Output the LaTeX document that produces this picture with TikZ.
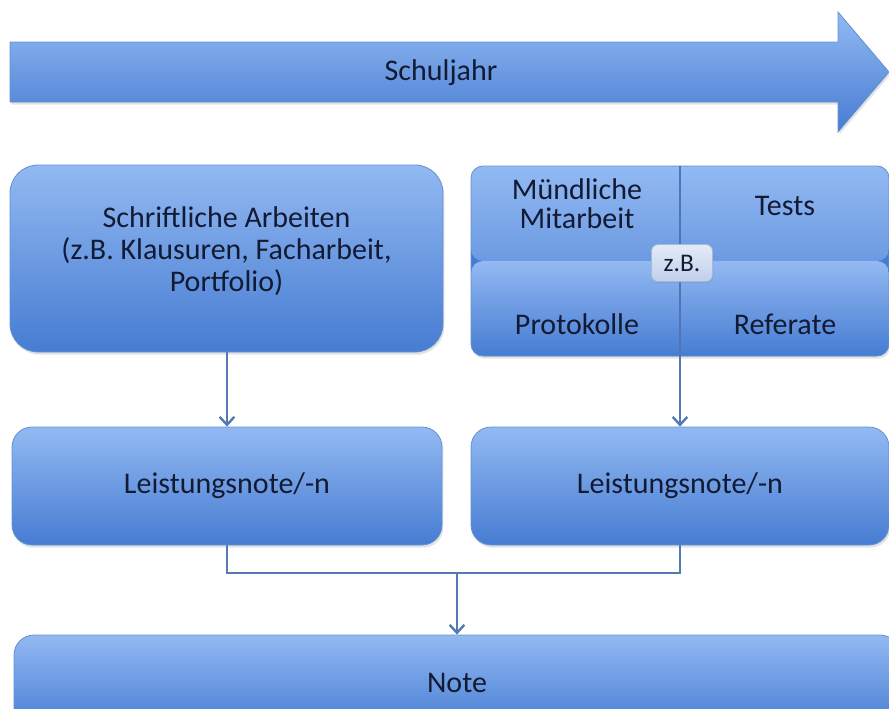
\documentclass[tikz,border=0pt]{standalone}
\usepackage{fontspec}
\setmainfont{Carlito}
\usetikzlibrary{arrows.meta,shadows}
\definecolor{bluetop}{RGB}{146,185,242}
\definecolor{bluebot}{RGB}{70,124,210}
\definecolor{blueedge}{RGB}{100,145,212}
\definecolor{divline}{RGB}{78,118,182}
\definecolor{txt}{RGB}{18,26,52}
\definecolor{conn}{RGB}{84,122,182}
\definecolor{zbtop}{RGB}{228,235,247}
\definecolor{zbbot}{RGB}{192,208,234}
\definecolor{zbedge}{RGB}{165,185,216}
\begin{document}
\begin{tikzpicture}[x=0.75pt,y=-0.75pt,
  softshadow/.style={drop shadow={opacity=0.22,shadow xshift=1pt,shadow yshift=-2pt}},
  bluebox/.style={draw=blueedge,line width=0.6pt,top color=bluetop,bottom color=bluebot,
    text=txt,align=center,inner sep=0pt,softshadow,
    font=\fontsize{22.5}{24}\selectfont},
  boxtxt/.style={text=txt,align=center,inner sep=0pt,font=\fontsize{22.5}{24}\selectfont},
  quadtxt/.style={text=txt,align=center,inner sep=0pt,font=\fontsize{22.5}{21.5}\selectfont},
  conline/.style={draw=conn,line width=2.2pt},
  conarrow/.style={conline,-{Straight Barb[length=6pt,width=11pt,line width=1.8pt]}}
]
\useasboundingbox (0,0) rectangle (889,708);

% timeline arrow
\shade[top color=bluetop,bottom color=bluebot,draw=blueedge,line width=0.6pt,softshadow]
  (10,42) -- (838,42) -- (838,12) -- (889,72) -- (838,132) -- (838,102) -- (10,102) -- cycle;
\node[boxtxt] (year) at (441,73) {Schuljahr};

% left upper box
\node[bluebox,rounded corners=21pt,minimum width=324.75pt,minimum height=140.25pt]
  (written) at (226.5,258.5) {};
\node[boxtxt] (writtentxt) at (226.5,251) {Schriftliche Arbeiten\\(z.B. Klausuren, Facharbeit,\\Portfolio)};

% right upper box with quadrants
\node[draw=blueedge,line width=0.6pt,rounded corners=9pt,inner sep=0pt,softshadow,
  fill=bluebot,
  minimum width=313.5pt,minimum height=142.5pt,
  path picture={
    \shade[top color=bluetop,bottom color=bluebot]
      (path picture bounding box.north west) rectangle (path picture bounding box.east);
    \shade[top color=bluetop,bottom color=bluebot]
      (path picture bounding box.west) rectangle (path picture bounding box.south east);
  }] (oral) at (680,261) {};
\draw[divline,line width=0.8pt] (oral.north) -- (oral.south);
\node[quadtxt] (muend) at (577,204) {Mündliche\\Mitarbeit};
\node[quadtxt] (tests) at (785,206) {Tests};
\node[quadtxt] (proto) at (577,324) {Protokolle};
\node[quadtxt] (refer) at (785,324) {Referate};
\node[draw=zbedge,line width=0.6pt,top color=zbtop,bottom color=zbbot,rounded corners=5pt,
  minimum width=45.75pt,minimum height=27.75pt,inner sep=0pt,text=txt,
  font=\fontsize{19}{20}\selectfont,drop shadow={opacity=0.25,shadow xshift=0.6pt,shadow yshift=-1.2pt}]
  (zb) at (682,263) {z.B.};

% grade boxes
\node[bluebox,rounded corners=15pt,minimum width=322.5pt,minimum height=88.5pt]
  (lnote) at (227,486) {Leistungsnote/-n};
\node[bluebox,rounded corners=15pt,minimum width=313.5pt,minimum height=88.5pt]
  (rnote) at (680,486) {Leistungsnote/-n};

% final box
\node[bluebox,rounded corners=15pt,minimum width=664.5pt,minimum height=72pt]
  (note) at (457,683) {Note};

% connectors
\draw[conarrow] (written.south -| lnote.north) -- (lnote.north);
\draw[conarrow] (oral.south) -- (rnote.north);
\coordinate (join) at (457,573);
\draw[conline] (lnote.south) |- (join) -| (rnote.south);
\draw[conarrow] (join) -- (note.north);
\end{tikzpicture}
\end{document}
